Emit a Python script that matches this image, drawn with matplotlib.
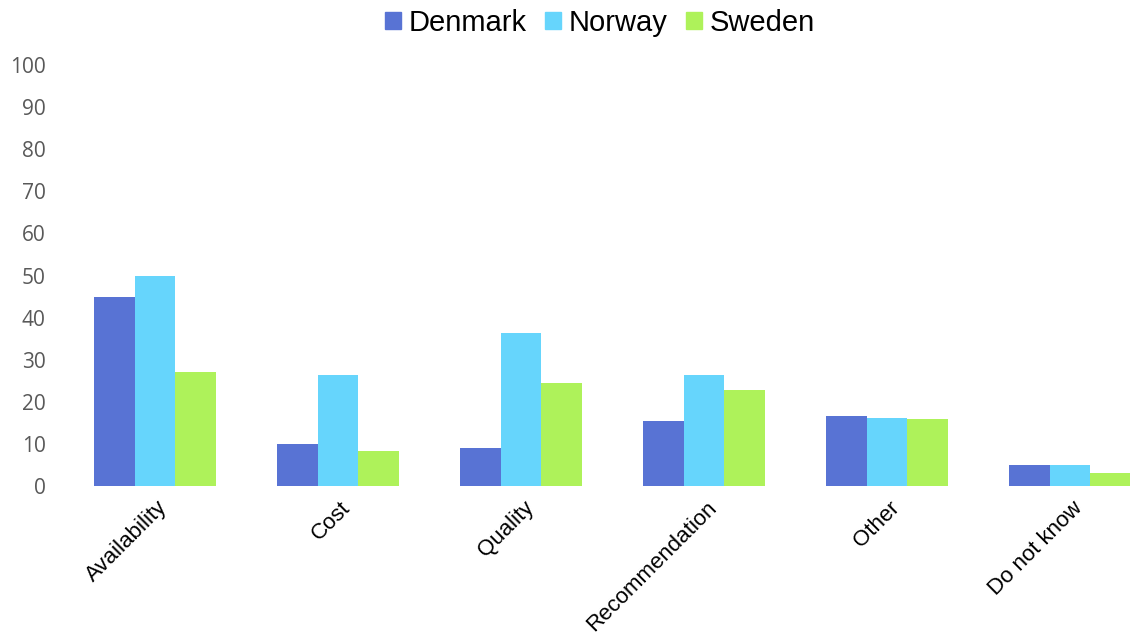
import numpy as np
import matplotlib.pyplot as plt
from matplotlib.patches import Patch

categories = ['Availability', 'Cost', 'Quality', 'Recommendation', 'Other', 'Do not know']
denmark = [45, 10, 9, 15.5, 16.7, 5]
norway = [50, 26.4, 36.3, 26.4, 16.2, 5]
sweden = [27, 8.2, 24.5, 22.8, 15.8, 3]

series = ['Denmark', 'Norway', 'Sweden']
colors = ['#5873d4', '#66d5fc', '#aef25a']

fig = plt.figure(figsize=(11.3, 6.36), dpi=100)
ax = fig.add_axes([63.5 / 1130, 150 / 636, (1130 - 63.5) / 1130, 421 / 636])

x = np.arange(len(categories))
w = 0.222
for i, (vals, name, c) in enumerate(zip([denmark, norway, sweden], series, colors)):
    ax.bar(x + (i - 1) * w, vals, width=w, color=c, label=name)

ax.set_xlim(-0.5, 5.328)
ax.set_ylim(0, 100)
ax.set_yticks(range(0, 101, 10))
ax.tick_params(axis='y', length=0, pad=13, labelsize=15, labelcolor='#595959')
for lab in ax.get_yticklabels():
    lab.set_family('Open Sans')
ax.set_xticks(x + 0.01)
ax.set_xticklabels(categories, rotation=45, ha='right', rotation_mode='anchor',
                   fontsize=16, family='Liberation Sans')
ax.tick_params(axis='x', length=0, pad=8)
for s in ax.spines.values():
    s.set_visible(False)

handles = [Patch(color=c, label=n) for c, n in zip(colors, series)]
fig.legend(handles=handles, loc='center', bbox_to_anchor=(600 / 1130, 1 - 23 / 636),
           ncol=3, frameon=False, prop={'family': 'Liberation Sans', 'size': 21},
           handlelength=0.55, handleheight=0.55, handletextpad=0.25, columnspacing=0.65)

fig.savefig('out.png', dpi=100)
